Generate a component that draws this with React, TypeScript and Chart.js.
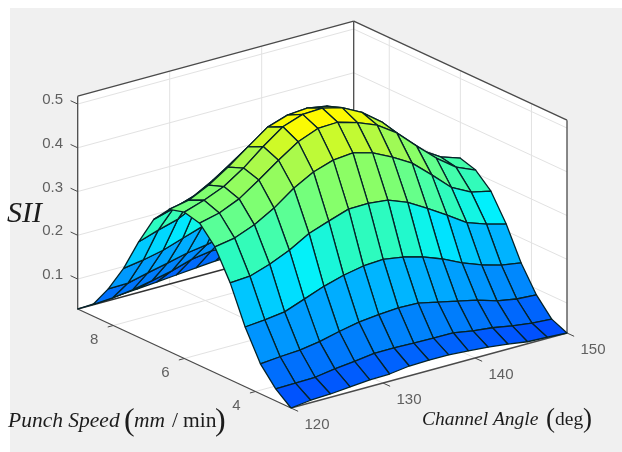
import React, { useEffect, useRef } from "react";
import { Chart, registerables } from "chart.js";

Chart.register(...registerables);

const channels = [120, 122.14, 124.29, 126.43, 128.57, 130.71, 132.86, 135, 137.14, 139.29, 141.43, 143.57, 145.71, 147.86, 150];
const speeds = [3, 3.43, 3.86, 4.29, 4.71, 5.14, 5.57, 6, 6.43, 6.86, 7.29, 7.71, 8.14, 8.57, 9];

const s00 = [0.0315, 0.037, 0.039, 0.043, 0.047, 0.048, 0.054, 0.055, 0.055, 0.052, 0.048, 0.043, 0.036, 0.034, 0.0315];
const s01 = [0.059, 0.06, 0.061, 0.068, 0.073, 0.079, 0.079, 0.078, 0.077, 0.077, 0.069, 0.064, 0.056, 0.05, 0.047];
const s02 = [0.1, 0.104, 0.107, 0.114, 0.125, 0.134, 0.139, 0.142, 0.141, 0.131, 0.121, 0.111, 0.097, 0.089, 0.086];
const s03 = [0.168, 0.172, 0.178, 0.195, 0.212, 0.225, 0.234, 0.237, 0.23, 0.218, 0.201, 0.18, 0.163, 0.15, 0.143];
const s04 = [0.253, 0.256, 0.271, 0.291, 0.317, 0.333, 0.348, 0.349, 0.344, 0.327, 0.301, 0.273, 0.244, 0.228, 0.216];
const s05 = [0.319, 0.327, 0.345, 0.371, 0.404, 0.429, 0.444, 0.448, 0.436, 0.414, 0.388, 0.349, 0.308, 0.285, 0.275];
const s06 = [0.357, 0.368, 0.388, 0.419, 0.452, 0.482, 0.5, 0.502, 0.489, 0.471, 0.441, 0.399, 0.359, 0.326, 0.307];
const s07 = [0.366, 0.381, 0.4, 0.43, 0.467, 0.5, 0.516, 0.518, 0.507, 0.484, 0.45, 0.403, 0.361, 0.333, 0.318];
const s08 = [0.356, 0.365, 0.387, 0.416, 0.45, 0.483, 0.498, 0.502, 0.494, 0.473, 0.44, 0.4, 0.35, 0.32, 0.3];
const s09 = [0.317, 0.33, 0.345, 0.37, 0.4, 0.43, 0.45, 0.455, 0.445, 0.425, 0.39, 0.35, 0.31, 0.28, 0.265];
const s10 = [0.249, 0.264, 0.277, 0.3, 0.325, 0.35, 0.365, 0.37, 0.36, 0.34, 0.31, 0.28, 0.25, 0.225, 0.21];
const s11 = [0.173, 0.18, 0.19, 0.205, 0.22, 0.24, 0.255, 0.26, 0.25, 0.235, 0.215, 0.19, 0.17, 0.155, 0.145];
const s12 = [0.11, 0.111, 0.122, 0.132, 0.143, 0.15, 0.16, 0.16, 0.155, 0.145, 0.13, 0.115, 0.1, 0.09, 0.085];
const s13 = [0.058, 0.061, 0.067, 0.076, 0.086, 0.1, 0.107, 0.105, 0.1, 0.09, 0.08, 0.07, 0.06, 0.052, 0.045];
const s14 = [0.0315, 0.034, 0.037, 0.04, 0.044, 0.048, 0.052, 0.056, 0.056, 0.055, 0.05, 0.045, 0.04, 0.035, 0.0315];
const surface = [s00, s01, s02, s03, s04, s05, s06, s07, s08, s09, s10, s11, s12, s13, s14];

const zTicks = [0.1, 0.2, 0.3, 0.4, 0.5];
const speedTicks = [4, 6, 8];
const channelTicks = [120, 130, 140, 150];

const zMin = 0.0315;
const zMax = 0.518;
const chMin = 120;
const chMax = 150;
const spMin = 3;
const spMax = 9;

// stops of the surface colour map: value, r, g, b
const colorStops = [
  [0.03, 0, 70, 255],
  [0.1, 0, 125, 252],
  [0.17, 0, 170, 255],
  [0.21, 0, 195, 255],
  [0.25, 0, 240, 255],
  [0.285, 40, 250, 195],
  [0.33, 75, 255, 165],
  [0.39, 135, 255, 105],
  [0.43, 160, 250, 85],
  [0.47, 195, 250, 50],
  [0.49, 240, 250, 10],
  [0.505, 255, 250, 0],
];

function colorOf(z: number) {
  for (let i = 1; i < colorStops.length; i++) {
    const a = colorStops[i - 1];
    const b = colorStops[i];
    if (z <= b[0]) {
      const t = Math.max(0, (z - a[0]) / (b[0] - a[0]));
      const m = (k: number) => Math.round(a[k] + (b[k] - a[k]) * t);
      return `rgb(${m(1)},${m(2)},${m(3)})`;
    }
  }
  return "rgb(255,250,0)";
}

// oblique view of the 3-D box onto the plane of the chart's x / y scales
function view(ch: number, sp: number, z: number) {
  return {
    x: 291 + (ch - chMin) * 9.2 - (sp - spMin) * 35.55,
    y: 408 - (ch - chMin) * 2.5 - (sp - spMin) * 16.5 - (z - zMin) * 437.5,
  };
}

function line(pts: { x: number; y: number }[], color: string, width: number, fill?: string) {
  return {
    data: pts,
    showLine: true,
    tension: 0,
    pointRadius: 0,
    borderColor: color,
    borderWidth: width,
    borderJoinStyle: "round",
    backgroundColor: fill || "transparent",
    fill: fill ? "shape" : false,
  };
}

function buildDatasets() {
  const front: any[] = [];
  // surface: nearest cell first, since Chart.js paints the first dataset last
  for (let r = 0; r < speeds.length - 1; r++) {
    for (let c = 0; c < channels.length - 1; c++) {
      const zs = [surface[r][c], surface[r][c + 1], surface[r + 1][c + 1], surface[r + 1][c]];
      const mean = (zs[0] + zs[1] + zs[2] + zs[3]) / 4;
      const pts = [
        view(channels[c], speeds[r], zs[0]),
        view(channels[c + 1], speeds[r], zs[1]),
        view(channels[c + 1], speeds[r + 1], zs[2]),
        view(channels[c], speeds[r + 1], zs[3]),
        view(channels[c], speeds[r], zs[0]),
      ];
      front.push(line(pts, "rgba(5,35,40,1)", 1.3, colorOf(mean)));
    }
  }
  const axisColor = "#4a4a4a";
  const axes: any[] = [];
  // axis rulers and tick marks
  axes.push(line([view(chMin, spMax, zMin), view(chMin, spMin, zMin)], axisColor, 1.3));
  axes.push(line([view(chMin, spMin, zMin), view(chMax, spMin, zMin)], axisColor, 1.3));
  axes.push(line([view(chMin, spMax, zMin), view(chMax, spMax, zMin)], "#333", 1.3));
  axes.push(line([view(chMax, spMax, zMin), view(chMax, spMin, zMin)], "#c8c8c8", 1));
  axes.push(line([view(chMin, spMax, zMin), view(chMin, spMax, zMax)], axisColor, 1.3));
  axes.push(line([view(chMax, spMin, zMin), view(chMax, spMin, zMax)], axisColor, 1.3));
  axes.push(line([view(chMax, spMax, zMin), view(chMax, spMax, zMax)], axisColor, 1.3));
  axes.push(line([view(chMin, spMax, zMax), view(chMax, spMax, zMax)], axisColor, 1.3));
  axes.push(line([view(chMax, spMax, zMax), view(chMax, spMin, zMax)], axisColor, 1.3));
  zTicks.forEach((z) => axes.push(line([view(chMin, spMax, z), view(chMin, spMax + 0.2, z)], axisColor, 1)));
  speedTicks.forEach((s) => axes.push(line([view(chMin, s, zMin), view(chMin - 0.6, s, zMin)], axisColor, 1)));
  channelTicks.forEach((c) => axes.push(line([view(c, spMin, zMin), view(c, spMin - 0.2, zMin)], axisColor, 1)));

  const grid: any[] = [];
  const gc = "#e2e2e2";
  zTicks.forEach((z) => {
    grid.push(line([view(chMin, spMax, z), view(chMax, spMax, z), view(chMax, spMin, z)], gc, 1));
  });
  [130, 140].forEach((c) => {
    grid.push(line([view(c, spMax, zMin), view(c, spMax, zMax)], gc, 1));
    grid.push(line([view(c, spMin, zMin), view(c, spMax, zMin)], gc, 1));
  });
  speedTicks.forEach((s) => {
    grid.push(line([view(chMax, s, zMin), view(chMax, s, zMax)], gc, 1));
    grid.push(line([view(chMin, s, zMin), view(chMax, s, zMin)], gc, 1));
  });
  const walls = [
    line([view(chMin, spMax, zMin), view(chMax, spMax, zMin), view(chMax, spMax, zMax), view(chMin, spMax, zMax), view(chMin, spMax, zMin)], "#fff", 0, "#ffffff"),
    line([view(chMax, spMax, zMin), view(chMax, spMin, zMin), view(chMax, spMin, zMax), view(chMax, spMax, zMax), view(chMax, spMax, zMin)], "#fff", 0, "#ffffff"),
    line([view(chMin, spMax, zMin), view(chMin, spMin, zMin), view(chMax, spMin, zMin), view(chMax, spMax, zMin), view(chMin, spMax, zMin)], "#fff", 0, "#ffffff"),
  ];
  return [...front, ...axes, ...grid, ...walls];
}

const serif = '"Liberation Serif", serif';
const sans = '"Liberation Sans", sans-serif';

function text(ctx: CanvasRenderingContext2D, font: string, s: string, x: number, y: number) {
  ctx.font = font;
  ctx.fillText(s, x, y);
}

const decor = {
  id: "decor",
  beforeDraw(chart: any) {
    const { ctx, width, height } = chart;
    ctx.save();
    ctx.fillStyle = "#ffffff";
    ctx.fillRect(0, 0, width, height);
    ctx.fillStyle = "#f0f0f0";
    ctx.fillRect(10, 8, width - 10, height - 8);
    ctx.restore();
  },
  afterDraw(chart: any) {
    const { ctx, scales } = chart;
    ctx.save();
    ctx.fillStyle = "#606060";
    ctx.font = `15px ${sans}`;
    ctx.textAlign = "center";
    ctx.textBaseline = "middle";
    const put = (t: string, p: { x: number; y: number }, dx: number, dy: number) =>
      ctx.fillText(t, scales.x.getPixelForValue(p.x) + dx, scales.y.getPixelForValue(p.y) + dy);
    zTicks.forEach((z) => put(z.toFixed(1), view(chMin, spMax, z), -25, -4));
    speedTicks.forEach((s) => put(String(s), view(chMin, s, zMin), -19, 14));
    channelTicks.forEach((c) => put(String(c), view(c, spMin, zMin), 26, 17));
    ctx.restore();
    ctx.save();
    ctx.textAlign = "left";
    ctx.textBaseline = "alphabetic";
    ctx.fillStyle = "#1c1c1c";
    text(ctx, `italic 30px ${serif}`, "SII", 7, 222);
    text(ctx, `italic 21.5px ${serif}`, "Punch Speed", 8, 427);
    text(ctx, `300 32px ${serif}`, "(", 124, 430);
    text(ctx, `italic 21.5px ${serif}`, "mm", 134, 427);
    text(ctx, `21.5px ${serif}`, "/", 172, 427);
    text(ctx, `21.5px ${serif}`, "min", 183, 427);
    text(ctx, `300 32px ${serif}`, ")", 215, 430);
    text(ctx, `italic 19.5px ${serif}`, "Channel Angle", 422, 425);
    text(ctx, `300 27px ${serif}`, "(", 546, 427);
    text(ctx, `19.5px ${serif}`, "deg", 555, 425);
    text(ctx, `300 27px ${serif}`, ")", 583, 427);
    ctx.restore();
  },
};

export default function App() {
  const ref = useRef<HTMLCanvasElement>(null);
  useEffect(() => {
    document.body.style.margin = "0";
    const chart = new Chart(ref.current as HTMLCanvasElement, {
      type: "scatter",
      data: { datasets: buildDatasets() as any },
      options: {
        animation: false,
        responsive: false,
        devicePixelRatio: 1,
        layout: { padding: 0 },
        plugins: { legend: { display: false }, tooltip: { enabled: false } },
        scales: {
          x: { type: "linear", min: 0, max: 622, display: false },
          y: { type: "linear", min: 0, max: 452, reverse: true, display: false },
        },
      } as any,
      plugins: [decor],
    });
    return () => chart.destroy();
  }, []);
  return (
    <canvas
      ref={ref}
      width={622}
      height={452}
      style={{ display: "block", width: 622, height: 452, filter: "blur(0.55px)" }}
    />
  );
}
